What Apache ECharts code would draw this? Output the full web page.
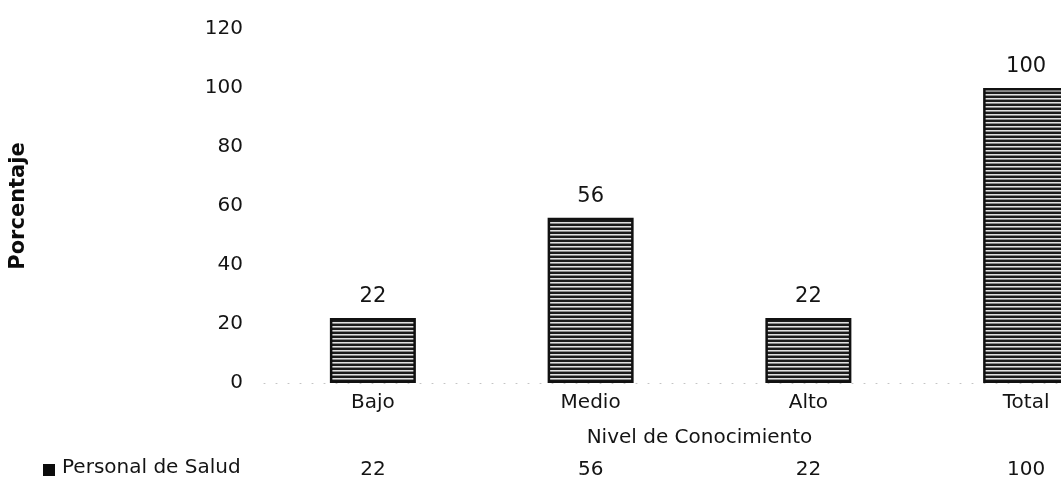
<!DOCTYPE html>
<html>
<head>
<meta charset="utf-8">
<script src="https://cdn.jsdelivr.net/npm/echarts@6/dist/echarts.min.js"></script>
<style>
  html, body { margin: 0; padding: 0; background: #fff; overflow: hidden; }
  #chart { width: 1061px; height: 482px; }
</style>
</head>
<body>
<div id="chart"></div>
<script>
// Nivel de conocimiento del personal de salud (porcentaje)
const categories = ['Bajo', 'Medio', 'Alto', 'Total'];
const values = [22, 56, 22, 100];
const seriesName = 'Personal de Salud';
const yTicks = [0, 20, 40, 60, 80, 100, 120];

// Horizontal striped fill for the bars
function stripePattern() {
  const c = document.createElement('canvas');
  c.width = 8; c.height = 4;
  const g = c.getContext('2d');
  g.fillStyle = '#1c1c1c'; g.fillRect(0, 0, 8, 4);
  g.fillStyle = '#e2e2e2'; g.fillRect(0, 2, 8, 1);
  g.fillStyle = '#8a8a8a'; g.fillRect(0, 3, 8, 1);
  return c;
}

const font = '"DejaVu Sans", Verdana, sans-serif';
const ink = '#141414';
const chart = echarts.init(document.getElementById('chart'));

chart.setOption({
  backgroundColor: '#fff',
  animation: false,
  // the last category runs past the right edge of the canvas
  grid: {
    left: 264, width: 871, top: 29, bottom: 99,
    containLabel: false,
    outerBoundsMode: 'none'
  },
  xAxis: [
    {
      type: 'category',
      data: categories,
      axisLine: { show: true, lineStyle: { color: '#c4c4c4', type: [1, 11], width: 1 } },
      axisTick: { show: false },
      axisLabel: { color: ink, fontSize: 20, fontFamily: font, margin: 10 },
      name: 'Nivel de Conocimiento',
      nameLocation: 'middle',
      nameGap: 45,
      nameTextStyle: { color: ink, fontSize: 20, fontFamily: font }
    },
    {
      // data table row under the axis
      type: 'category',
      position: 'bottom',
      offset: 77,
      data: values.map(String),
      axisLine: { show: false },
      axisTick: { show: false },
      axisLabel: { color: ink, fontSize: 20, fontFamily: font, margin: 0 }
    }
  ],
  yAxis: {
    type: 'value',
    min: yTicks[0],
    max: yTicks[yTicks.length - 1],
    interval: 20,
    splitLine: { show: false },
    axisLine: { show: false },
    axisTick: { show: false },
    axisLabel: { color: ink, fontSize: 20, fontFamily: font, margin: 21 },
    name: 'Porcentaje',
    nameLocation: 'middle',
    nameGap: 235,
    nameRotate: 90,
    nameTextStyle: { color: '#0c0c0c', fontSize: 21, fontWeight: 'bold', fontFamily: font }
  },
  series: [{
    name: seriesName,
    type: 'bar',
    data: values,
    barWidth: 86,
    itemStyle: {
      color: { image: stripePattern(), repeat: 'repeat' },
      borderColor: '#111',
      borderWidth: 2.5
    },
    label: {
      show: true,
      position: 'top',
      distance: 11,
      color: ink,
      fontSize: 21,
      fontFamily: font
    }
  }],
  graphic: [{
    type: 'group',
    left: 43,
    top: 458,
    children: [
      { type: 'rect', shape: { x: 0, y: 6, width: 12, height: 12 }, style: { fill: '#0c0c0c' } },
      { type: 'text', x: 19, y: 0, style: { text: seriesName, fill: ink, fontSize: 20, fontFamily: font } }
    ]
  }]
});
</script>
</body>
</html>
